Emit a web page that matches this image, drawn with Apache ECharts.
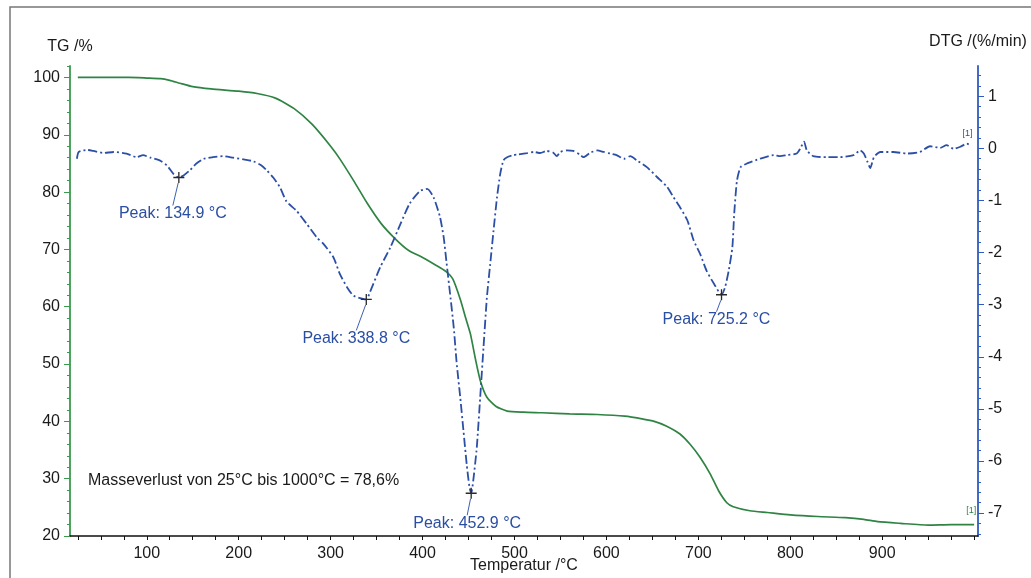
<!DOCTYPE html>
<html><head><meta charset="utf-8">
<script src="https://cdn.jsdelivr.net/npm/echarts@6/dist/echarts.min.js"></script>
<style>html,body{margin:0;padding:0;background:#fff}#c{width:1031px;height:578px}</style>
</head><body><div id="c"></div>
<script>
// ---- data ----
const tgTemp = [25,50,80,100,115,125,136,150,170,200,220,240,260,280,300,310,325,340,355,370,385,400,415,425,433,441,447,452,458,463,470,480,492,510,530,560,590,620,640,652,665,680,691,702,713,722,731,738,756,775,800,830,860,880,895,920,950,975,1000];
const tgVal  = [100.0,100.0,100.0,99.9,99.8,99.5,99.0,98.4,98.0,97.6,97.2,96.4,94.6,91.8,88.0,85.8,82.0,78.0,74.5,71.9,69.8,68.6,67.2,66.2,64.8,61.3,58.0,55.3,50.5,47.0,44.2,42.6,41.8,41.6,41.5,41.3,41.2,40.9,40.4,40.0,39.2,37.8,36.0,33.7,30.8,27.9,25.8,25.1,24.4,24.1,23.7,23.4,23.2,22.9,22.5,22.2,21.9,22.0,22.0];

const dtgTemp = [24,26,35,42,53,64,78,89,96,104,114,122,129,134.9,140,147,154,162,172,183,194,208,216,224,231,238,245,252,263,274,285,292,303,310,318,325,338.8,343,354,365,376,386,397,405,412,419,423,426,430,434,437,441,444.5,448,451,452.9,455,459,462.7,466.3,470,473.6,477.2,481,484.5,488,492,499,503,510,514,521,528,535,542,546,550,557,564,571,575,582,590,597,604,611,619,626,633,644,655,666,673,680,688,695,702,709,717,725.2,729,733,737,739,742,746,753,767,782,789,796,807,811,815,818,825,840,854,869,876,880,884,887,891,898,912,927,941,952,963,970,978,985,992,996];
const dtgVal  = [-0.20,-0.07,-0.03,-0.05,-0.09,-0.07,-0.10,-0.17,-0.13,-0.18,-0.23,-0.33,-0.49,-0.56,-0.52,-0.42,-0.29,-0.20,-0.17,-0.15,-0.18,-0.22,-0.25,-0.32,-0.43,-0.57,-0.75,-1.02,-1.20,-1.45,-1.71,-1.83,-2.09,-2.41,-2.67,-2.83,-2.90,-2.75,-2.28,-1.90,-1.45,-1.06,-0.82,-0.78,-0.94,-1.32,-1.71,-2.18,-2.80,-3.45,-4.10,-4.78,-5.42,-6.06,-6.50,-6.62,-6.40,-5.74,-4.78,-3.82,-2.86,-2.22,-1.58,-0.94,-0.49,-0.23,-0.17,-0.13,-0.12,-0.10,-0.09,-0.07,-0.09,-0.05,-0.08,-0.15,-0.07,-0.04,-0.05,-0.12,-0.17,-0.09,-0.04,-0.07,-0.10,-0.13,-0.20,-0.15,-0.23,-0.36,-0.55,-0.74,-0.94,-1.13,-1.38,-1.77,-2.03,-2.35,-2.60,-2.81,-2.67,-2.35,-1.90,-1.26,-0.62,-0.36,-0.29,-0.20,-0.13,-0.15,-0.13,-0.10,0.00,0.13,-0.04,-0.15,-0.17,-0.17,-0.13,-0.04,-0.10,-0.26,-0.38,-0.17,-0.07,-0.07,-0.10,-0.07,0.04,0.01,0.06,-0.01,0.03,0.09,0.06];

const peakTemp = [134.9, 338.8, 452.9, 725.2];
const peakDTG  = [-0.56, -2.90, -6.62, -2.81];
const peakLabels = ['Peak: 134.9 °C', 'Peak: 338.8 °C', 'Peak: 452.9 °C', 'Peak: 725.2 °C'];

const xTickLabels   = [100,200,300,400,500,600,700,800,900];
const tgTickLabels  = [20,30,40,50,60,70,80,90,100];
const dtgTickLabels = [-7,-6,-5,-4,-3,-2,-1,0,1];
const massLossText = 'Masseverlust von 25°C bis 1000°C = 78,6%';

// ---- styling / layout ----
const FONT = '"Liberation Sans", Arial, sans-serif';
const GREEN = '#2f8443', GREEN_AX = '#3a9a4c';
const BLUE = '#2c4fa6', BLUE_AX = '#2f5cc0', BLUE_TXT = '#2a4ea4';
const peakLabelOffsets = [[-6,36],[-10,39],[-4,30],[-5,25]];

const xMinor = []; for (let v = 25; v <= 1000; v += 25) xMinor.push(v);
const tgMinor = []; for (let v = 20; v <= 102; v += 2) tgMinor.push(v);
const dtgMinor = []; for (let k = -37; k <= 7; k++) dtgMinor.push(Math.round(k * 0.2 * 10) / 10);

const chart = echarts.init(document.getElementById('c'), null, {renderer: 'canvas'});
const lbl = {fontFamily: FONT, fontSize: 16, color: '#1a1a1a'};

chart.setOption({
  animation: false,
  backgroundColor: '#fff',
  textStyle: {fontFamily: FONT},
  grid: {left: 70, right: 53, top: 66, bottom: 42, containLabel: false, outerBoundsMode: 'none'},
  xAxis: {
    type: 'value', min: 16.5, max: 1004.2,
    name: 'Temperatur /°C', nameLocation: 'middle', nameGap: 22, nameMoveOverlap: false,
    nameTextStyle: Object.assign({verticalAlign: 'top'}, lbl),
    axisLine: {onZero: false, lineStyle: {color: '#111', width: 1.5}},
    axisTick: {customValues: xMinor, length: 4, lineStyle: {color: '#111'}},
    axisLabel: Object.assign({customValues: xTickLabels, margin: 10}, lbl),
    splitLine: {show: false}
  },
  yAxis: [
    {
      type: 'value', min: 20, max: 102, position: 'left',
      name: 'TG /%', nameLocation: 'end', nameGap: 11, nameMoveOverlap: false,
      nameTextStyle: Object.assign({align: 'center'}, lbl),
      axisLine: {show: true, onZero: false, lineStyle: {color: GREEN_AX, width: 1.8}},
      axisTick: {show: true, customValues: tgTickLabels, length: 6, lineStyle: {color: GREEN_AX}},
      axisLabel: Object.assign({customValues: tgTickLabels, margin: 10}, lbl),
      splitLine: {show: false}
    },
    {
      type: 'value', min: -7.44, max: 1.58, position: 'right',
      name: 'DTG /(%/min)', nameLocation: 'end', nameGap: 16, nameMoveOverlap: false,
      nameTextStyle: Object.assign({align: 'center'}, lbl),
      axisLine: {show: true, onZero: false, lineStyle: {color: BLUE_AX, width: 1.8}},
      axisTick: {show: true, customValues: dtgTickLabels, length: 6, lineStyle: {color: BLUE_AX}},
      axisLabel: Object.assign({customValues: dtgTickLabels, margin: 10}, lbl),
      splitLine: {show: false}
    },
    {
      type: 'value', min: 20, max: 102, position: 'left',
      axisLine: {show: false, onZero: false}, axisLabel: {show: false}, splitLine: {show: false},
      axisTick: {show: true, customValues: tgMinor, length: 3, lineStyle: {color: GREEN_AX}}
    },
    {
      type: 'value', min: -7.44, max: 1.58, position: 'right',
      axisLine: {show: false, onZero: false}, axisLabel: {show: false}, splitLine: {show: false},
      axisTick: {show: true, customValues: dtgMinor, length: 3, lineStyle: {color: BLUE_AX}}
    }
  ],
  series: [
    {
      type: 'line', name: 'TG', yAxisIndex: 0,
      data: tgTemp.map((t, i) => [t, tgVal[i]]),
      showSymbol: false, smooth: 0.2,
      lineStyle: {color: GREEN, width: 1.7},
      endLabel: {show: true, formatter: '[1]', color: GREEN, fontSize: 9, fontFamily: FONT, offset: [-16, -14]},
      z: 3
    },
    {
      type: 'line', name: 'DTG', yAxisIndex: 1,
      data: dtgTemp.map((t, i) => [t, dtgVal[i]]),
      showSymbol: false, smooth: 0.2,
      lineStyle: {color: BLUE, width: 1.8, type: [9, 3, 2, 3]},
      endLabel: {show: true, formatter: '[1]', color: BLUE, fontSize: 9, fontFamily: FONT, offset: [-16, -12]},
      z: 3
    },
    {
      type: 'scatter', name: 'Peaks', yAxisIndex: 1,
      data: peakTemp.map((t, i) => [t, peakDTG[i]]),
      symbol: 'path://M4.4,0h1.2v4.4h4.4v1.2h-4.4v4.4h-1.2v-4.4h-4.4v-1.2h4.4z',
      symbolSize: 11,
      itemStyle: {color: '#2a2a2a', opacity: 1},
      label: {
        show: true, position: 'inside', opacity: 1,
        formatter: p => peakLabels[p.dataIndex],
        fontFamily: FONT, fontSize: 16, color: BLUE_TXT
      },
      labelLayout: p => ({dx: peakLabelOffsets[p.dataIndex][0], dy: peakLabelOffsets[p.dataIndex][1]}),
      labelLine: {show: true, lineStyle: {color: '#3f5fae', width: 1, opacity: 1}},
      z: 5
    }
  ],
  graphic: [
    {type: 'rect', shape: {x: 10, y: 7, width: 1100, height: 700}, style: {fill: 'none', stroke: '#777', lineWidth: 1.5}, silent: true},
    {type: 'text', left: 88, top: 473, style: {text: massLossText, font: '16px ' + FONT, fill: '#1a1a1a'}}
  ]
});
</script>
</body></html>
